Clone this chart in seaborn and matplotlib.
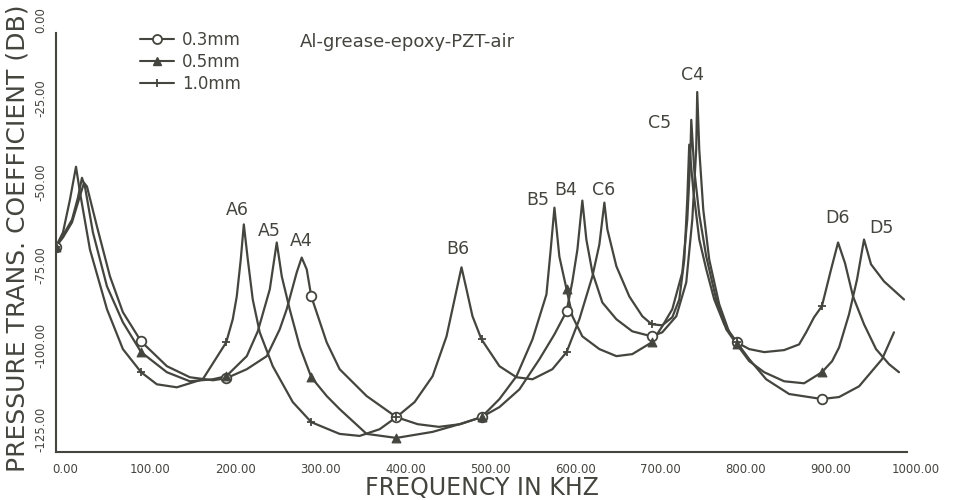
import numpy as np
import pandas as pd
import matplotlib
matplotlib.use("Agg")
import matplotlib.pyplot as plt
import matplotlib.transforms as mtransforms
from matplotlib.lines import Line2D
import seaborn as sns

# ---------------- data (frequency in kHz, coefficient in dB) ----------------
freq_03 = [0, 8.2, 18.8, 25.8, 32.9, 36.4, 48.1, 63.4, 78.6, 100, 130.3, 157.3, 184.3, 200,
           224.2, 247.7, 262.9, 271.1, 282.9, 288.7, 294.6, 300, 318.1, 333.3, 365.0, 400,
           425, 450, 475, 500, 521.1, 544.6, 568.1, 585.7, 600, 606.8, 612.7, 618.5, 623.2,
           630.3, 642.0, 658.5, 677.2, 700, 712.4, 728.9, 740.6, 747.7, 752.3, 753.5, 755.9,
           760.6, 767.6, 779.3, 791.1, 800, 814.6, 834.5, 861.5, 900, 920.2, 943.7, 970.7, 984.7]
db_03 = [-63.7, -61.0, -56.5, -50.6, -44.7, -45.8, -57.7, -72.6, -83.3, -92.0, -99.4, -102.7, -103.6, -103.0,
         -100.3, -96.4, -88.4, -82.4, -71.4, -67.0, -70.5, -78.6, -92.3, -100.3, -108.3, -114.6,
         -116.7, -117.5, -116.7, -114.6, -111.6, -106.3, -97.3, -89.9, -83.0, -74.1, -64.6, -50.0, -61.6,
         -71.4, -80.4, -85.4, -89.0, -90.5, -89.3, -84.5, -74.4, -55.7, -34.8, -17.6, -34.8,
         -52.7, -67.6, -80.9, -89.3, -92.3, -97.3, -103.3, -107.7, -109.2, -108.6, -105.4, -97.3, -89.3]

freq_05 = [0, 8.2, 18.8, 25.8, 30.5, 34.0, 43.4, 59.9, 78.6, 100, 130.3, 157.3, 184.3, 200,
           224.2, 237.1, 251.2, 259.4, 265.3, 274.6, 286.4, 300, 318.1, 333.3, 365.0, 400,
           442.5, 474.2, 500, 521.1, 541.1, 559.9, 576.3, 581.0, 585.7, 591.5, 600, 606.8,
           618.5, 638.5, 658.5, 677.2, 700, 712.4, 724.2, 736.0, 741.8, 745.3, 746.5, 750.0,
           755.9, 764.1, 775.8, 787.6, 800, 814.6, 832.2, 855.6, 879.1, 900, 912.0, 920.2,
           931.9, 941.3, 949.5, 957.7, 973.0, 996.5]
db_05 = [-63.7, -60.4, -55.7, -49.1, -43.2, -45.8, -59.5, -75.6, -86.3, -95.2, -101.2, -103.9, -103.3, -102.4,
         -96.4, -89.0, -76.5, -62.5, -72.6, -82.4, -93.5, -102.7, -108.3, -112.2, -119.6, -120.8,
         -119.0, -116.7, -114.6, -109.2, -102.4, -91.4, -78.0, -65.5, -52.1, -66.7, -76.5, -84.5,
         -90.5, -94.3, -96.4, -95.8, -92.3, -87.5, -82.4, -71.4, -55.7, -37.8, -25.9, -40.8,
         -54.2, -66.7, -79.5, -88.4, -92.9, -97.9, -101.2, -103.9, -104.5, -101.2, -97.9, -93.8,
         -83.9, -73.5, -61.6, -69.0, -74.1, -79.5]

freq_10 = [0, 8.2, 16.4, 23.5, 28.2, 39.9, 59.9, 78.6, 100, 118.5, 142.0, 172.5, 200,
           207.7, 212.4, 217.1, 220.7, 225.4, 231.2, 239.4, 254.7, 278.2, 300, 333.3, 356.8,
           380.3, 400, 421.4, 442.5, 458.9, 468.3, 476.5, 482.4, 489.4, 500, 521.1, 541.1,
           559.9, 583.3, 600, 615.0, 630.3, 638.5, 644.4, 647.9, 658.5, 673.7, 689.0, 700,
           712.4, 724.2, 732.4, 738.3, 741.8, 744.1, 748.8, 755.9, 764.1, 773.5, 785.2, 800,
           814.6, 832.2, 855.6, 873.2, 881.5, 890.8, 900, 910.8, 919.0, 927.2, 936.6, 949.5,
           963.6, 978.9, 990.6]
db_10 = [-63.7, -59.5, -49.7, -39.9, -47.6, -64.6, -82.4, -94.3, -101.2, -104.8, -105.7, -103.3, -92.3,
         -85.4, -78.6, -67.6, -57.1, -67.6, -79.5, -89.3, -99.4, -110.1, -116.1, -119.6, -120.2,
         -118.2, -114.6, -110.1, -102.4, -90.5, -79.5, -69.9, -76.5, -84.5, -91.4, -99.4, -102.7,
         -103.3, -100.3, -95.2, -85.4, -72.6, -63.1, -50.6, -58.6, -69.6, -78.6, -84.5, -86.9,
         -87.2, -84.8, -79.5, -67.6, -49.7, -33.3, -46.7, -61.6, -70.5, -79.5, -86.9, -92.3,
         -94.3, -95.2, -94.6, -92.9, -89.3, -84.8, -81.5, -70.5, -62.5, -68.7, -78.6, -86.9,
         -94.3, -98.8, -101.2]

series_names = ["0.3mm", "0.5mm", "1.0mm"]
marker_step = 100  # symbols every 100 kHz

peak_names = ["A6", "A5", "A4", "B6", "B5", "B4", "C6", "C5", "C4", "D6", "D5"]
peak_label_f = [213.6, 251.2, 287.6, 471.8, 565.7, 598.6, 643.2, 708.9, 747.7, 918.1, 969.5]
peak_label_db = [-52.7, -59.2, -62.2, -64.3, -49.7, -46.7, -46.7, -26.8, -12.5, -55.1, -58.3]

x_ticks = [0, 100, 200, 300, 400, 500, 600, 700, 800, 900, 1000]
x_tick_labels = ["0.00", "100.00", "200.00", "300.00", "400.00", "500.00",
                 "600.00", "700.00", "800.00", "900.00", "1000.00"]
y_ticks = [0, -25, -50, -75, -100, -125]
y_tick_labels = ["0.00", "-25.00", "-50.00", "-75.00", "-100.00", "-125.00"]

# ---------------- figure ----------------
sns.set_style("white")
plt.rcParams["font.family"] = ["DejaVu Sans"]
ink = "#45453f"

fig = plt.figure(figsize=(9.59, 5.0), dpi=100)
ax = fig.add_axes([56 / 959, 48 / 500, 851 / 959, 419 / 500])

frames = []
for name, f, d in [(series_names[0], freq_03, db_03),
                   (series_names[1], freq_05, db_05),
                   (series_names[2], freq_10, db_10)]:
    frames.append(pd.DataFrame({"series": name, "freq": f, "db": d}))
df = pd.concat(frames, ignore_index=True)

marker_style = {
    series_names[0]: dict(marker="o", s=48, facecolor="white", edgecolor=ink, linewidth=1.3),
    series_names[1]: dict(marker="^", s=40, facecolor=ink, edgecolor=ink, linewidth=0.8),
    series_names[2]: dict(marker="+", s=40, facecolor=ink, edgecolor=ink, linewidth=1.3),
}

for name in series_names:
    sub = df[df["series"] == name]
    sns.lineplot(data=sub, x="freq", y="db", ax=ax, color=ink, lw=1.6,
                 estimator=None, sort=False, legend=False)
    m = sub[np.isclose(sub["freq"] % marker_step, 0)]
    st = marker_style[name]
    if st["marker"] == "+":
        sns.scatterplot(data=m, x="freq", y="db", ax=ax, marker="+", s=st["s"],
                        color=ink, linewidth=st["linewidth"], legend=False, zorder=4)
    else:
        sns.scatterplot(data=m, x="freq", y="db", ax=ax, marker=st["marker"], s=st["s"],
                        facecolor=st["facecolor"], edgecolor=st["edgecolor"],
                        linewidth=st["linewidth"], legend=False, zorder=4)

ax.set_xlim(0, 1000)
ax.set_ylim(-125, 0)
ax.set_xlabel("")
ax.set_ylabel("")

for s in ["top", "right"]:
    ax.spines[s].set_visible(False)
for s in ["left", "bottom"]:
    ax.spines[s].set_color(ink)
    ax.spines[s].set_linewidth(1.5)

ax.set_xticks(x_ticks)
ax.set_xticklabels(x_tick_labels)
ax.set_xticks([50 + 100 * i for i in range(10)], minor=True)
ax.set_yticks(y_ticks)
ax.set_yticklabels(y_tick_labels, rotation=90, va="bottom", ha="right")
ax.set_yticks([-12.5 - 25 * i for i in range(5)], minor=True)
ax.tick_params(axis="both", which="both", direction="out", length=5, width=1.3,
               color=ink, labelcolor=ink, labelsize=8.5)
ax.tick_params(axis="y", which="major", pad=1)
ax.tick_params(axis="x", which="major", pad=3)
off = mtransforms.ScaledTranslation(9 / 100, 0, fig.dpi_scale_trans)
for lab in ax.get_xticklabels():
    lab.set_transform(lab.get_transform() + off)

# peak labels
for name, f, d in zip(peak_names, peak_label_f, peak_label_db):
    ax.text(f, d, name, ha="center", va="center", fontsize=12.5, color=ink)

# annotation and legend
ax.text(0.287, 0.978, "Al-grease-epoxy-PZT-air", transform=ax.transAxes,
        ha="left", va="center", fontsize=13, color=ink)
handles = [
    Line2D([], [], color=ink, lw=1.5, marker="o", markersize=6.5,
           markerfacecolor="white", markeredgecolor=ink, markeredgewidth=1.3),
    Line2D([], [], color=ink, lw=1.5, marker="^", markersize=6,
           markerfacecolor=ink, markeredgecolor=ink),
    Line2D([], [], color=ink, lw=1.5, marker="+", markersize=6,
           markeredgecolor=ink, markeredgewidth=1.3),
]
leg = ax.legend(handles, series_names, loc="upper left", bbox_to_anchor=(0.099, 1.005),
                frameon=False, fontsize=12, handlelength=2.0, handletextpad=0.5,
                labelspacing=0.25, borderpad=0, borderaxespad=0)
for t in leg.get_texts():
    t.set_color(ink)

fig.text(18 / 959, 1 - 238 / 500, "PRESSURE TRANS. COEFFICIENT (DB)", rotation=90,
         ha="center", va="center", fontsize=18, color=ink)
fig.text(482 / 959, 1 - 488 / 500, "FREQUENCY IN KHZ", ha="center", va="center",
         fontsize=17, color=ink)

fig.savefig("out.png", dpi=100, facecolor="white")
